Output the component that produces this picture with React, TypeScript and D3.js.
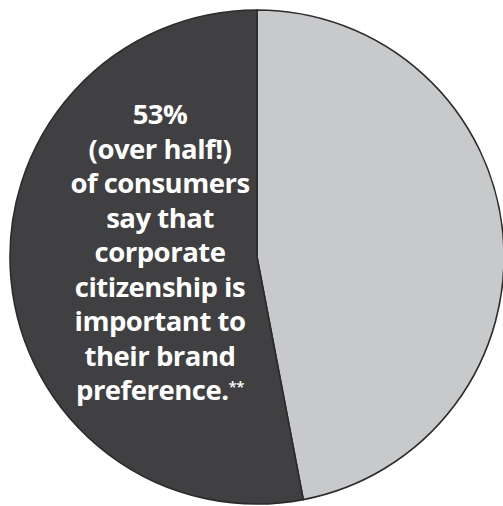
import React from "react";
import * as d3 from "d3";

const categories = ["Other", "Corporate citizenship important"];
const values = [47, 53];
const colors = ["#c8c9cb", "#404042"];
const labelLines = [
  "53%",
  "(over half!)",
  "of consumers",
  "say that",
  "corporate",
  "citizenship is",
  "important to",
  "their brand",
  "preference.",
];

export default function App() {
  const W = 503, H = 506;
  const cx = 257, cy = 257, r = 247;
  const pie = d3.pie<number>().sort(null).value((d) => d)(values);
  const arc = d3.arc<d3.PieArcDatum<number>>().innerRadius(0).outerRadius(r);
  const lineY = d3.scaleLinear().domain([0, labelLines.length - 1]).range([124, 400]);
  return (
    <svg width={W} height={H} style={{ position: "absolute", left: 0, top: 0, background: "#fff" }}>
      <g transform={`translate(${cx},${cy})`}>
        {pie.map((p, i) => (
          <path key={categories[i]} d={arc(p) || ""} fill={colors[i]} stroke="#2b2b2c" strokeWidth={1.6} strokeLinejoin="round" />
        ))}
      </g>
      <g fontFamily="'Open Sans', 'Noto Sans', sans-serif" fontWeight={700} fill="#ffffff" fontSize={27.5} textAnchor="middle">
        {labelLines.map((t, i) => (
          <text key={i} x={160} y={lineY(i)} letterSpacing={-0.5}>
            {t}
            {i === labelLines.length - 1 ? (
              <tspan fontSize={15} fontWeight={600} dy={-8} fill="#ffffff">**</tspan>
            ) : null}
          </text>
        ))}
      </g>
    </svg>
  );
}
